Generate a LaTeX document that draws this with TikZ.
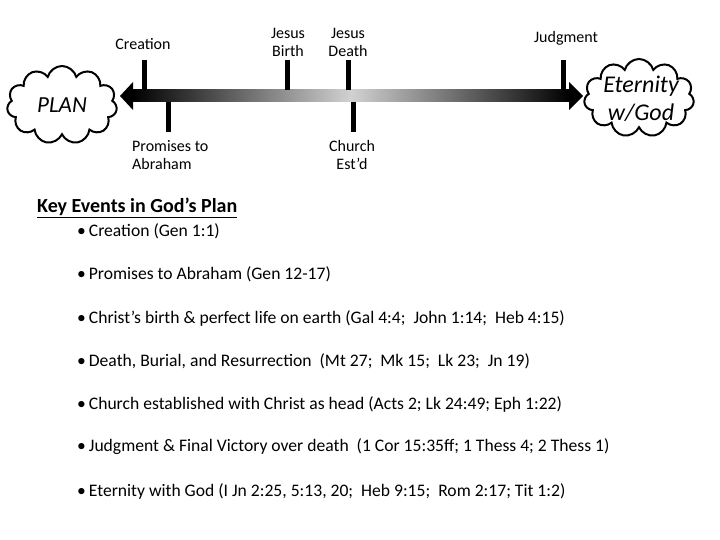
\documentclass[tikz,border=0pt]{standalone}
\usepackage{fontspec}
\setmainfont{Carlito}
\usetikzlibrary{shapes.symbols}

\begin{document}
\begin{tikzpicture}[x=1pt,y=-1pt,
    planCloud/.style={cloud, cloud puffs=11, cloud ignores aspect, draw=black, line width=2pt,
        fill=white, minimum width=110pt, minimum height=78pt, inner sep=0pt},
    cloudText/.style={font=\itshape\fontsize{23}{28}\selectfont, align=center, inner sep=0pt},
    tick/.style={line width=5pt},
    event/.style={font=\fontsize{16}{18}\selectfont, align=center, inner sep=0pt},
    item/.style={anchor=west, font=\fontsize{17.6}{20}\selectfont, inner sep=0pt}]
  \useasboundingbox (0,0) rectangle (720,540);

  % clouds at both ends
  \node[planCloud] (plan) at (62,105) {};
  \node[cloudText] (plantext) at (plan.center) {PLAN};
  \node[planCloud] (eternity) at (639,98) {};
  \node[cloudText, font=\itshape\fontsize{24}{28}\selectfont] (eternitytext) at (641,99) {Eternity\\w/God};

  % the timeline bar
  \coordinate (barL) at (132,90);
  \coordinate (barR) at (570,102);
  \shade[left color=black, right color=black, middle color=black!18] (barL) rectangle (barR);
  \coordinate (tipL) at (120,96);
  \coordinate (tipR) at (583,96);
  \fill (tipL) -- (133,82) -- (133,110) -- cycle;
  \fill (tipR) -- (569,82) -- (569,110) -- cycle;

  % ticks above and below
  \foreach \name/\x in {crea/144,birth/287,death/348,judg/563}{
      \coordinate (\name top) at (\x,60);
      \coordinate (\name bot) at (\x,90);
      \draw[tick] (\name top) -- (\name bot);
    }
  \foreach \name/\x in {prom/168,church/353}{
      \coordinate (\name top) at (\x,102);
      \coordinate (\name bot) at (\x,132);
      \draw[tick] (\name top) -- (\name bot);
    }

  \node[event] (lcrea) at (143,44) {Creation};
  \node[event] (lbirth) at (288,42) {Jesus\\Birth};
  \node[event] (ldeath) at (348,42) {Jesus\\Death};
  \node[event] (ljudg) at (566,38) {Judgment};
  \node[event, align=left, anchor=west] (lprom) at (132,155) {Promises to\\Abraham};
  \node[event] (lchurch) at (352,155) {Church\\Est’d};

  % list of key events
  \node[anchor=west, inner sep=0pt, font=\bfseries\fontsize{20}{22}\selectfont] (head) at (37,208) {\underline{Key Events in God’s Plan}};
  \foreach \y/\txt in {231/Creation (Gen 1:1),
      274/Promises to Abraham (Gen 12-17),
      318/{Christ’s birth \& perfect life on earth (Gal 4:4;\ \ John 1:14;\ \ Heb 4:15)},
      361/{Death, Burial, and Resurrection\ \ (Mt 27;\ \ Mk 15;\ \ Lk 23;\ \ Jn 19)},
      404/{Church established with Christ as head (Acts 2; Lk 24:49; Eph 1:22)},
      447/{Judgment \& Final Victory over death\ \ (1 Cor 15:35ff; 1 Thess 4; 2 Thess 1)},
      491/{Eternity with God (I Jn 2:25, 5:13, 20;\ \ Heb 9:15;\ \ Rom 2:17; Tit 1:2)}}{
      \node[item] at (77,\y) {\textbullet\,\txt};
    }
\end{tikzpicture}
\end{document}
